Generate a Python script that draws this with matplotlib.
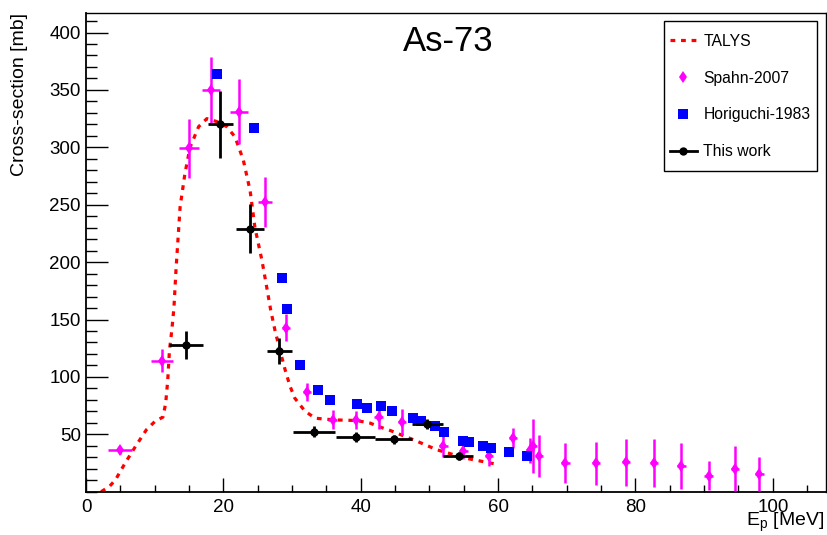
import numpy as np
import matplotlib
matplotlib.use("Agg")
import matplotlib.pyplot as plt
from matplotlib.lines import Line2D
from matplotlib.patches import Rectangle
from matplotlib.ticker import MultipleLocator, FixedLocator

plt.rcParams['font.family'] = ['Liberation Sans', 'DejaVu Sans']
plt.rcParams['mathtext.fontset'] = 'custom'
plt.rcParams['mathtext.rm'] = 'Liberation Sans'

# TALYS calculation
talys_e = [2.2, 3.4, 4.3, 5.7, 7.2, 8.8, 10.0, 11.2, 11.6, 11.9, 12.15, 12.5, 12.8,
           13.1, 13.7, 14.4, 15.15, 16.4, 17.6, 19.0, 20.5, 21.7, 22.9, 23.9, 24.6,
           25.6, 26.2, 26.9, 27.5, 28.2, 29.0, 29.7, 30.4, 31.9, 33.4, 36.0, 39.4,
           41.4, 42.3, 44.3, 47.7, 51.1, 55.2, 59.7]
talys_xs = [0.0, 4.5, 10.4, 25.0, 39.4, 54.0, 61.0, 65.0, 77.0, 97.0, 123.0, 141.0, 160.0,
            193.0, 248.0, 277.0, 300.0, 318.0, 325.0, 322.5, 318.0, 309.0, 289.0, 262.0, 230.0,
            202.0, 182.0, 158.0, 141.0, 124.0, 106.0, 92.0, 81.5, 70.0, 64.0, 62.6, 62.0,
            59.7, 57.4, 53.3, 45.2, 36.5, 29.3, 24.0]

# Spahn-2007
spahn_e = [4.9, 11.05, 15.0, 18.15, 22.3, 26.05, 29.15, 32.15, 35.9, 39.3, 42.6, 46.0,
           52.05, 54.95, 58.7, 62.15, 64.6, 65.07, 66.0, 69.8, 74.3, 78.6, 82.75, 86.7,
           90.65, 94.45, 98.05]
spahn_de = [1.75, 1.6, 1.5, 1.3, 1.3, 1.05, 0.6, 0.6, 0.6, 0.6, 0.6, 0.6,
            0.6, 0.6, 0.6, 0.6, 0.6, 0.6, 0.6, 0.6, 0.6, 0.6, 0.6, 0.6,
            0.6, 0.6, 0.6]
spahn_xs = [36.0, 114.0, 299.0, 349.5, 331.0, 252.5, 143.0, 87.0, 62.8, 62.4, 65.5, 60.6,
            39.4, 35.3, 31.3, 46.4, 35.9, 39.4, 31.3, 24.9, 24.9, 25.8, 24.9, 22.6,
            13.9, 20.2, 15.3]
spahn_dxs = [3.0, 10.0, 26.0, 29.0, 28.5, 22.0, 12.0, 8.0, 8.5, 8.0, 11.0, 11.5,
             9.5, 7.0, 8.5, 8.7, 11.0, 23.5, 18.5, 17.4, 18.7, 20.5, 20.6, 20.0,
             12.5, 19.5, 15.0]

# Horiguchi-1983
hori_e = [19.1, 24.5, 28.55, 29.25, 31.2, 33.75, 35.55, 39.45, 40.95, 42.95, 44.6,
          47.6, 48.75, 50.85, 52.1, 54.9, 55.8, 57.8, 58.95, 61.6, 64.2]
hori_xs = [364.0, 317.0, 186.0, 159.0, 110.0, 89.0, 80.0, 76.0, 72.5, 75.0, 70.5,
           64.6, 61.2, 56.8, 51.6, 44.6, 43.7, 39.4, 38.5, 35.0, 30.7]

# This work
work_e = [14.6, 19.5, 23.9, 28.1, 33.2, 39.3, 44.8, 49.7, 54.25]
work_e_lo = [12.1, 17.7, 21.85, 26.3, 30.2, 36.4, 42.1, 47.5, 52.05]
work_e_hi = [17.1, 21.4, 25.95, 29.95, 36.2, 42.1, 47.4, 52.05, 56.4]
work_xs = [128.0, 320.0, 229.0, 122.5, 52.3, 47.6, 45.5, 59.0, 31.3]
work_dxs = [12.0, 29.0, 21.5, 11.0, 4.5, 4.0, 4.0, 4.5, 3.5]

W, H = 827, 535
fig = plt.figure(figsize=(W / 100, H / 100), dpi=100)
ax = fig.add_axes([86 / W, 1 - 491.7 / H, (825.7 - 86) / W, (491.7 - 13) / H])

red_dots = (0, (1.5, 1.8))
ax.plot(talys_e, talys_xs, color='#ff0000', lw=2.3, linestyle=red_dots,
        dash_capstyle='butt', zorder=2)

ax.errorbar(spahn_e, spahn_xs, xerr=spahn_de, yerr=spahn_dxs, fmt='d', color='#ff00ff',
            ms=6, mew=0, elinewidth=1.8, capsize=0, zorder=3)

ax.plot(hori_e, hori_xs, 's', color='#0000ff', ms=7.2, mew=0, zorder=4)

we = np.array(work_e)
xerr_w = [we - np.array(work_e_lo), np.array(work_e_hi) - we]
ax.errorbar(work_e, work_xs, xerr=xerr_w, yerr=work_dxs, fmt='o', color='black',
            ms=6, mew=0, elinewidth=2.0, capsize=0, zorder=5)

ax.set_xlim(0, 107.7)
ax.set_ylim(0, 417)

ax.xaxis.set_major_locator(MultipleLocator(20))
ax.xaxis.set_minor_locator(MultipleLocator(5))
ax.yaxis.set_major_locator(FixedLocator([50, 100, 150, 200, 250, 300, 350, 400]))
ax.yaxis.set_minor_locator(MultipleLocator(10))

ax.tick_params(axis='both', which='both', direction='in', width=1.0, color='black',
               labelsize=13.5, top=False, right=False)
ax.tick_params(axis='y', which='major', length=15.8, pad=3.6)
ax.tick_params(axis='y', which='minor', length=7.9)
ax.tick_params(axis='x', which='major', length=10, pad=5)
ax.tick_params(axis='x', which='minor', length=5)

for side in ['left', 'bottom']:
    ax.spines[side].set_linewidth(1.3)
for side in ['top', 'right']:
    ax.spines[side].set_linewidth(1.0)

ax.set_xlabel('E$_\\mathregular{p}$ [MeV]', fontsize=14, ha='right', va='baseline')
ax.xaxis.set_label_coords(0.998, -0.0715)
ax.set_ylabel('Cross-section [mb]', fontsize=14, loc='top')
ax.yaxis.set_label_coords(-0.078, 1.0)

ax.text(0.49, 0.94, 'As-73', transform=ax.transAxes, fontsize=25,
        ha='center', va='center')

# legend box
lx0 = (664.3 - 86) / 739.7
ly0 = (491.7 - 171) / 478.7
ax.add_patch(Rectangle((lx0, ly0), 152.4 / 739.7, 150 / 478.7, transform=ax.transAxes,
                       facecolor='white', edgecolor='black', lw=1.0, zorder=6))
handles = [
    Line2D([], [], color='#ff0000', lw=2.3, linestyle=red_dots, dash_capstyle='butt'),
    Line2D([], [], marker='d', color='#ff00ff', ms=6, mew=0, ls='none'),
    Line2D([], [], marker='s', color='#0000ff', ms=7.2, mew=0, ls='none'),
    Line2D([], [], marker='o', color='black', ms=6, mew=0, lw=2.0),
]
labels = ['TALYS', 'Spahn-2007', 'Horiguchi-1983', 'This work']
leg = ax.legend(handles, labels, loc='center left',
                bbox_to_anchor=((670 - 86) / 739.7, (491.7 - 96.5) / 478.7),
                frameon=False, fontsize=11.3, borderpad=0, borderaxespad=0,
                handlelength=1.7, handletextpad=0.42, labelspacing=1.4)
leg.set_zorder(7)

fig.savefig('out.png', dpi=100)
